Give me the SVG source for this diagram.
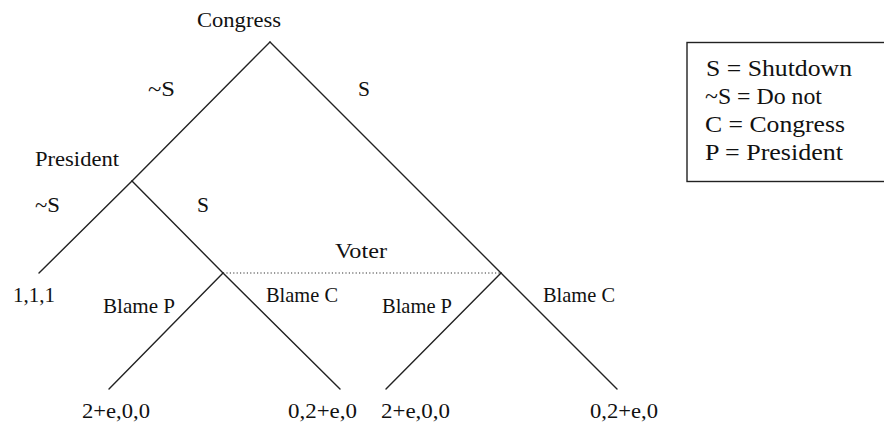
<svg xmlns="http://www.w3.org/2000/svg" width="884" height="426" viewBox="0 0 884 426">
<style>
.e{stroke:#222;stroke-width:1.4;fill:none;stroke-linecap:round}
.d{stroke:#333;stroke-width:1.2;stroke-dasharray:1.2 2.2;fill:none}
text{font-family:'Liberation Serif','DejaVu Serif','Times New Roman',serif;fill:#111}
.t{font-size:21px}
.l{font-size:23px}
</style>
<rect width="884" height="426" fill="#fff"/>
<g id="connectors">
<line class="e" x1="270" y1="42" x2="132" y2="181"/>
<line class="e" x1="270" y1="42" x2="501" y2="273"/>
<line class="e" x1="132" y1="181" x2="39" y2="273"/>
<line class="e" x1="132" y1="181" x2="223" y2="273"/>
<line class="e" x1="223" y1="273" x2="109" y2="389"/>
<line class="e" x1="223" y1="273" x2="340" y2="389"/>
<line class="e" x1="501" y1="273" x2="386" y2="389"/>
<line class="e" x1="501" y1="273" x2="617" y2="389"/>
<line class="d" x1="223" y1="273" x2="501" y2="273"/>
</g>
<g id="edge-labels">
<text class="t" x="148" y="96" textLength="27" lengthAdjust="spacingAndGlyphs">~S</text>
<text class="t" x="358" y="96" textLength="12" lengthAdjust="spacingAndGlyphs">S</text>
<text class="t" x="35" y="212" textLength="25" lengthAdjust="spacingAndGlyphs">~S</text>
<text class="t" x="197" y="212" textLength="12" lengthAdjust="spacingAndGlyphs">S</text>
<text class="t" x="103" y="313" textLength="72" lengthAdjust="spacingAndGlyphs">Blame P</text>
<text class="t" x="266" y="302" textLength="72" lengthAdjust="spacingAndGlyphs">Blame C</text>
<text class="t" x="382" y="313" textLength="70" lengthAdjust="spacingAndGlyphs">Blame P</text>
<text class="t" x="543" y="302" textLength="72" lengthAdjust="spacingAndGlyphs">Blame C</text>
</g>
<g id="congress"><text class="t" x="197" y="27" textLength="84" lengthAdjust="spacingAndGlyphs">Congress</text></g>
<g id="president"><text class="t" x="35" y="166" textLength="84" lengthAdjust="spacingAndGlyphs">President</text></g>
<g id="voter"><text class="t" x="335" y="258" textLength="52" lengthAdjust="spacingAndGlyphs">Voter</text></g>
<g id="leaf1"><text class="t" x="13" y="302" textLength="42" lengthAdjust="spacingAndGlyphs">1,1,1</text></g>
<g id="leaf2"><text class="t" x="82" y="418" textLength="68" lengthAdjust="spacingAndGlyphs">2+e,0,0</text></g>
<g id="leaf3"><text class="t" x="288" y="418" textLength="69" lengthAdjust="spacingAndGlyphs">0,2+e,0</text></g>
<g id="leaf4"><text class="t" x="381" y="418" textLength="69" lengthAdjust="spacingAndGlyphs">2+e,0,0</text></g>
<g id="leaf5"><text class="t" x="590" y="418" textLength="68" lengthAdjust="spacingAndGlyphs">0,2+e,0</text></g>
<g id="legend">
<rect x="687" y="42.5" width="220" height="139" fill="none" stroke="#222" stroke-width="1.4"/>
<text class="l" x="706" y="76" textLength="146" lengthAdjust="spacingAndGlyphs">S = Shutdown</text>
<text class="l" x="705" y="104" textLength="117" lengthAdjust="spacingAndGlyphs">~S = Do not</text>
<text class="l" x="705" y="132" textLength="140" lengthAdjust="spacingAndGlyphs">C = Congress</text>
<text class="l" x="705" y="160" textLength="138" lengthAdjust="spacingAndGlyphs">P = President</text>
</g>
</svg>
